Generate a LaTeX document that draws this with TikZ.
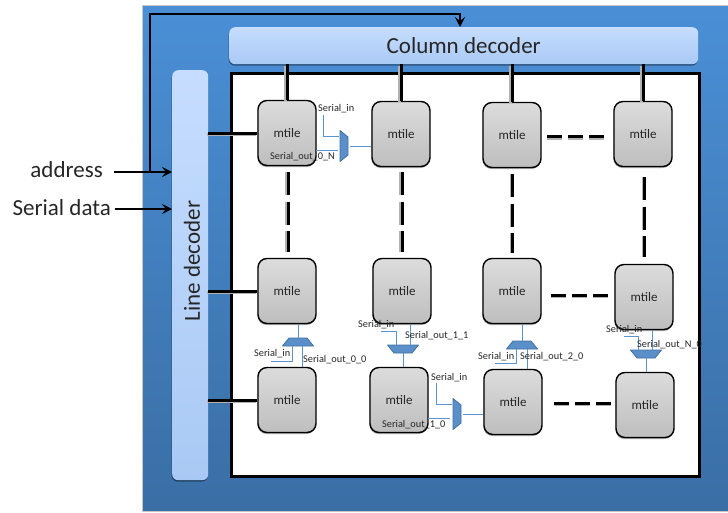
\documentclass[tikz,border=0pt]{standalone}
\usepackage{fontspec}
\setmainfont{Carlito}
\usetikzlibrary{arrows.meta,shadows}
\definecolor{bgtop}{HTML}{4A8FD6}
\definecolor{bgbot}{HTML}{3A6EA5}
\definecolor{paneltop}{HTML}{C6DDFF}
\definecolor{panelbot}{HTML}{A9C9F4}
\definecolor{tiletop}{HTML}{DCDCDC}
\definecolor{tilebot}{HTML}{BEBEBE}
\definecolor{wire}{HTML}{5B93D0}
\definecolor{muxfill}{HTML}{5B8FC9}
\definecolor{muxdraw}{HTML}{41719C}
\definecolor{ink}{HTML}{262626}
\newcommand{\tiletext}{\raisebox{-2pt}{mtile}}
\tikzset{
  x=1pt,y=-1pt,
  tile/.style={draw=black,line width=1.4pt,rounded corners=9pt,minimum width=58pt,minimum height=65pt,inner sep=0pt,
    top color=tiletop,bottom color=tilebot,font=\fontsize{13}{14}\selectfont,text=ink,
    drop shadow={shadow xshift=-.5pt,shadow yshift=-1.5pt,opacity=.35,fill=black}},
  panel/.style={rounded corners=6pt,inner sep=0pt,top color=paneltop,bottom color=panelbot,text=ink,
    font=\fontsize{23}{25}\selectfont,drop shadow={shadow xshift=-.5pt,shadow yshift=-1.5pt,opacity=.4,fill=black}},
  lab/.style={font=\fontsize{23}{25}\selectfont,text=ink,inner sep=0pt},
  sig/.style={font=\fontsize{10.3}{11}\selectfont,text=ink,inner sep=0pt},
  thick bus/.style={draw=black,line width=3pt,preaction={draw=black!30,line width=3pt,transform canvas={xshift=-1.5pt,yshift=-1.5pt}}},
  vdash bus/.style={draw=black,line width=3pt,dash pattern=on 23pt off 6.5pt,
    preaction={draw=black!30,line width=3pt,dash pattern=on 23pt off 6.5pt,transform canvas={xshift=-1.5pt}}},
  hdash bus/.style={draw=black,line width=3pt,dash pattern=on 15pt off 6pt,
    preaction={draw=black!30,line width=3pt,dash pattern=on 15pt off 6pt,transform canvas={yshift=-1.5pt}}},
  arrowline/.style={draw=black,line width=2.3pt,-{Stealth[length=10pt,width=10pt,inset=4pt]}},
  wireline/.style={draw=wire,line width=1pt},
  muxbody/.style={fill=muxfill,draw=muxdraw,line width=.8pt,line join=round},
  pics/muxpic/.style={code={\draw[muxbody] (-15.5,4) -- (-9,-4) -- (9,-4) -- (15.5,4) -- cycle;}},
}
\begin{document}
\begin{tikzpicture}
\useasboundingbox (0,0) rectangle (728,512);
% background
\fill[black!22] (142,5) rectangle (728,512);
\node[name=bg,anchor=north west,inner sep=0pt,minimum width=585pt,minimum height=504.5pt,top color=bgtop,bottom color=bgbot] at (143,6) {};
% white area
\draw[draw=black,line width=3pt,fill=white] (231.5,73.5) rectangle (699,476);
% decoders
\node[panel,name=cd,anchor=north west,minimum width=469pt,minimum height=37pt] at (229,27) {\raisebox{-2pt}{Column decoder}};
\node[panel,name=ld,anchor=north west,minimum width=36pt,minimum height=410pt] at (172,70) {};
\node[lab,rotate=90] at (192,261) {Line decoder};
% tiles
\foreach \n/\cx/\cy in {a1/287/133,a2/401/134,a3/512/135,a4/643/134,
                        b1/287/291,b2/402/291,b3/512/291,b4/644/297,
                        c1/287/400,c2/399/400,c3/513/402,c4/645/405}{
  \node[tile,name=\n] at (\cx,\cy) {\tiletext};
}
% column decoder to first row
\foreach \n in {a1,a2,a3,a4}{\draw[thick bus] (cd.south -| \n.north) -- (\n.north);}
% line decoder to first column
\foreach \n in {a1,b1,c1}{\draw[thick bus] (ld.east |- \n.west) -- (\n.west);}
% vertical dashes
\coordinate (v1t) at (288,172); \coordinate (v1b) at (288,252);
\coordinate (v2t) at (402,172); \coordinate (v2b) at (402,252);
\coordinate (v3t) at (512.5,174); \coordinate (v3b) at (512.5,253);
\coordinate (v4t) at (644.5,177); \coordinate (v4b) at (644.5,257);
\foreach \n in {1,2,3,4}{\draw[vdash bus] (v\n t) -- (v\n b);}
% horizontal dashes
\coordinate (h1l) at (547,136.5); \coordinate (h1r) at (604,136.5);
\coordinate (h2l) at (551,295);   \coordinate (h2r) at (608,295);
\coordinate (h3l) at (554,403);   \coordinate (h3r) at (612,403);
\foreach \n in {1,2,3}{\draw[hdash bus] (h\n l) -- (h\n r);}
% address and serial data
\node[lab,name=addr,anchor=east] at (103,170) {address};
\node[lab,name=sdata,anchor=east] at (111,208) {Serial data};
\coordinate (atap) at (150,172);
\coordinate (astart) at (114,172);
\coordinate (sstart) at (115,209);
\draw[arrowline] (astart) -- (ld.west |- astart);
\draw[arrowline] (sstart) -- (ld.west |- sstart);
\coordinate (ctop) at (460,14);
\draw[arrowline] (atap) -- (150,14) -- (ctop) -- (cd.north -| ctop);
% multiplexers
\coordinate (m1) at (344,146);
\coordinate (m2) at (298,342);
\coordinate (m3) at (403,349);
\coordinate (m4) at (457,414);
\coordinate (m5) at (522,345);
\coordinate (m6) at (646,354);
\pic[rotate=-90] at (m1) {muxpic};
\pic at (m2) {muxpic};
\pic[rotate=180] at (m3) {muxpic};
\pic[rotate=-90] at (m4) {muxpic};
\pic at (m5) {muxpic};
\pic[rotate=180] at (m6) {muxpic};
% mux 1 wiring
\coordinate (i1) at (323,115);
\draw[wireline] (i1) |- (339,136);
\draw[wireline] (316,150) -- (338,150);
\draw[wireline] ([xshift=6pt]m1) -- (m1 -| a2.west);
% mux 2 wiring
\draw[wireline] (b1.south -| m2) -- ([yshift=4pt]m2);
\coordinate (i2) at (271,361);
\draw[wireline] (i2) -| (292,346);
\coordinate (o2) at (302,346);
\draw[wireline] (o2) -- (c1.north -| o2);
% mux 3 wiring
\coordinate (i3) at (381,331);
\draw[wireline] (i3) -| (396,345);
\coordinate (u3) at (410,345);
\draw[wireline] (b2.south -| u3) -- (u3);
\draw[wireline] ([yshift=-4pt]m3) -- (c2.north -| m3);
% mux 4 wiring
\coordinate (i4) at (436,383);
\draw[wireline] (i4) |- (452,404);
\draw[wireline] (428,418) -- (450,418);
\draw[wireline] ([xshift=6pt]m4) -- (m4 -| c3.west);
% mux 5 wiring
\draw[wireline] (b3.south -| m5) -- ([yshift=4pt]m5);
\coordinate (i5) at (495,363);
\draw[wireline] (i5) -| (516,349);
\coordinate (o5) at (527,349);
\draw[wireline] (o5) -- (c3.north -| o5);
% mux 6 wiring
\coordinate (i6) at (624,336);
\draw[wireline] (i6) -| (638,350);
\coordinate (u6) at (652,350);
\draw[wireline] (b4.south -| u6) -- (u6);
\draw[wireline] ([yshift=-4pt]m6) -- (c4.north -| m6);
% signal labels
\node[sig,anchor=west] at (318,109) {Serial\_in};
\node[sig,anchor=west] at (270,157) {Serial\_out\_0\_N};
\node[sig,anchor=west] at (254,354) {Serial\_in};
\node[sig,anchor=west] at (303,360) {Serial\_out\_0\_0};
\node[sig,anchor=west] at (358,325) {Serial\_in};
\node[sig,anchor=west] at (405,336) {Serial\_out\_1\_1};
\node[sig,anchor=west] at (431,378) {Serial\_in};
\node[sig,anchor=west] at (382,425) {Serial\_out\_1\_0};
\node[sig,anchor=west] at (478,357) {Serial\_in};
\node[sig,anchor=west] at (520,357) {Serial\_out\_2\_0};
\node[sig,anchor=west] at (606,330) {Serial\_in};
\node[sig,anchor=west] at (637,345) {Serial\_out\_N\_0};
\end{tikzpicture}
\end{document}
